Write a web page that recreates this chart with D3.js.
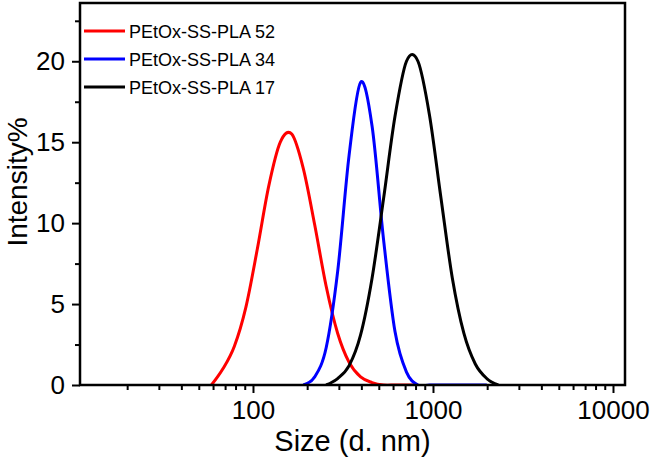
<!DOCTYPE html>
<html>
<head>
<meta charset="utf-8">
<script src="https://cdn.jsdelivr.net/npm/d3@7"></script>
<style>
  html, body { margin: 0; padding: 0; background: #fff; }
  svg { display: block; }
  text { font-family: "Liberation Sans", Arial, sans-serif; fill: #000; }
</style>
</head>
<body>
<svg id="chart" width="661" height="464"></svg>
<script>
// ---- data ----
const seriesNames = ["PEtOx-SS-PLA 52", "PEtOx-SS-PLA 34", "PEtOx-SS-PLA 17"];
const seriesColors = ["#ff0000", "#0000ff", "#000000"];

const sizes52 = [58.77, 68.06, 78.82, 91.28, 105.7, 122.4, 141.8, 164.2, 190.1, 220.2, 255.0, 295.3, 342.0, 396.1, 458.7, 531.2, 615.1, 712.4, 825.0];
const intensity52 = [0, 1.0, 2.4, 4.8, 8.4, 12.3, 15.0, 15.5, 13.4, 9.9, 6.1, 3.2, 1.4, 0.5, 0.15, 0, 0, 0, 0];

const sizes34 = [190.1, 220.2, 255.0, 295.3, 342.0, 396.1, 458.7, 531.2, 615.1, 712.4, 825.0, 955.4, 1106, 1281, 1484, 1718, 1990];
const intensity34 = [0, 0.5, 2.3, 7.0, 14.2, 18.7, 16.0, 9.0, 3.3, 0.8, 0, 0, 0, 0, 0, 0, 0];

const sizes17 = [255.0, 295.3, 342.0, 396.1, 458.7, 531.2, 615.1, 712.4, 825.0, 955.4, 1106, 1281, 1484, 1718, 1990, 2305];
const intensity17 = [0, 0.4, 1.2, 3.1, 6.6, 11.5, 16.6, 20.0, 20.0, 16.7, 11.6, 6.6, 3.2, 1.3, 0.4, 0];

const xMajorTicks = [100, 1000, 10000];
const xMinorTicks = [20, 30, 40, 50, 60, 70, 80, 90, 200, 300, 400, 500, 600, 700, 800, 900, 2000, 3000, 4000, 5000, 6000, 7000, 8000, 9000];
const yMajorTicks = [0, 5, 10, 15, 20];
const yMinorTicks = [2.5, 7.5, 12.5, 17.5, 22.5];

const xTitle = "Size (d. nm)";
const yTitle = "Intensity%";

// ---- layout ----
const svg = d3.select("#chart");
const L = 80, R = 625, T = 3, B = 385;

const x = d3.scaleLog().domain([10.94, 11660]).range([L, R]);
const y = d3.scaleLinear().domain([0, 23.6]).range([B, T]);

svg.append("defs").append("clipPath").attr("id", "clip")
  .append("rect").attr("x", L).attr("y", T).attr("width", R - L).attr("height", B - T);

const line = d3.line()
  .x(d => x(d[0]))
  .y(d => y(d[1]))
  .curve(d3.curveCatmullRom.alpha(0));

const series = [
  { sizes: sizes52, vals: intensity52 },
  { sizes: sizes34, vals: intensity34 },
  { sizes: sizes17, vals: intensity17 }
];

const gCurves = svg.append("g").attr("clip-path", "url(#clip)");
series.forEach((s, i) => {
  const pts = s.sizes.map((sz, j) => [sz, s.vals[j]]);
  gCurves.append("path")
    .datum(pts)
    .attr("d", line)
    .attr("fill", "none")
    .attr("stroke", seriesColors[i])
    .attr("stroke-width", 3)
    .attr("stroke-linejoin", "round");
});

// axes
const xAxis = d3.axisBottom(x).tickValues(xMajorTicks).tickFormat(d3.format("d")).tickSize(8).tickSizeOuter(0).tickPadding(8);
const xAxisMinor = d3.axisBottom(x).tickValues(xMinorTicks).tickFormat("").tickSize(5).tickSizeOuter(0);
const yAxis = d3.axisLeft(y).tickValues(yMajorTicks).tickFormat(d3.format("d")).tickSize(8).tickSizeOuter(0).tickPadding(7);
const yAxisMinor = d3.axisLeft(y).tickValues(yMinorTicks).tickFormat("").tickSize(5).tickSizeOuter(0);

function styleAxis(g) {
  g.select(".domain").remove();
  g.selectAll(".tick line").attr("stroke", "#000").attr("stroke-width", 2);
  g.selectAll(".tick text")
    .style("font-family", "'Liberation Sans', Arial, sans-serif")
    .style("font-size", "26px")
    .attr("fill", "#000");
}

svg.append("g").attr("transform", `translate(0,${B})`).call(xAxisMinor).call(styleAxis);
svg.append("g").attr("transform", `translate(0,${B})`).call(xAxis).call(styleAxis);
svg.append("g").attr("transform", `translate(${L},0)`).call(yAxisMinor).call(styleAxis);
svg.append("g").attr("transform", `translate(${L},0)`).call(yAxis).call(styleAxis);

// frame
svg.append("rect")
  .attr("x", L).attr("y", T).attr("width", R - L).attr("height", B - T)
  .attr("fill", "none").attr("stroke", "#000").attr("stroke-width", 2.5);

// titles
svg.append("text")
  .attr("x", (L + R) / 2).attr("y", 451)
  .attr("text-anchor", "middle")
  .style("font-size", "29px")
  .text(xTitle);

svg.append("text")
  .attr("transform", `translate(27,${(T + B) / 2 - 12}) rotate(-90)`)
  .attr("text-anchor", "middle")
  .style("font-size", "28px")
  .text(yTitle);

// legend
const legendY = [31, 59, 87];
const leg = svg.append("g");
seriesNames.forEach((name, i) => {
  leg.append("line")
    .attr("x1", 84).attr("x2", 125)
    .attr("y1", legendY[i]).attr("y2", legendY[i])
    .attr("stroke", seriesColors[i]).attr("stroke-width", 3);
  leg.append("text")
    .attr("x", 129).attr("y", legendY[i] + 6.5)
    .style("font-size", "18px")
    .text(name);
});
</script>
</body>
</html>
